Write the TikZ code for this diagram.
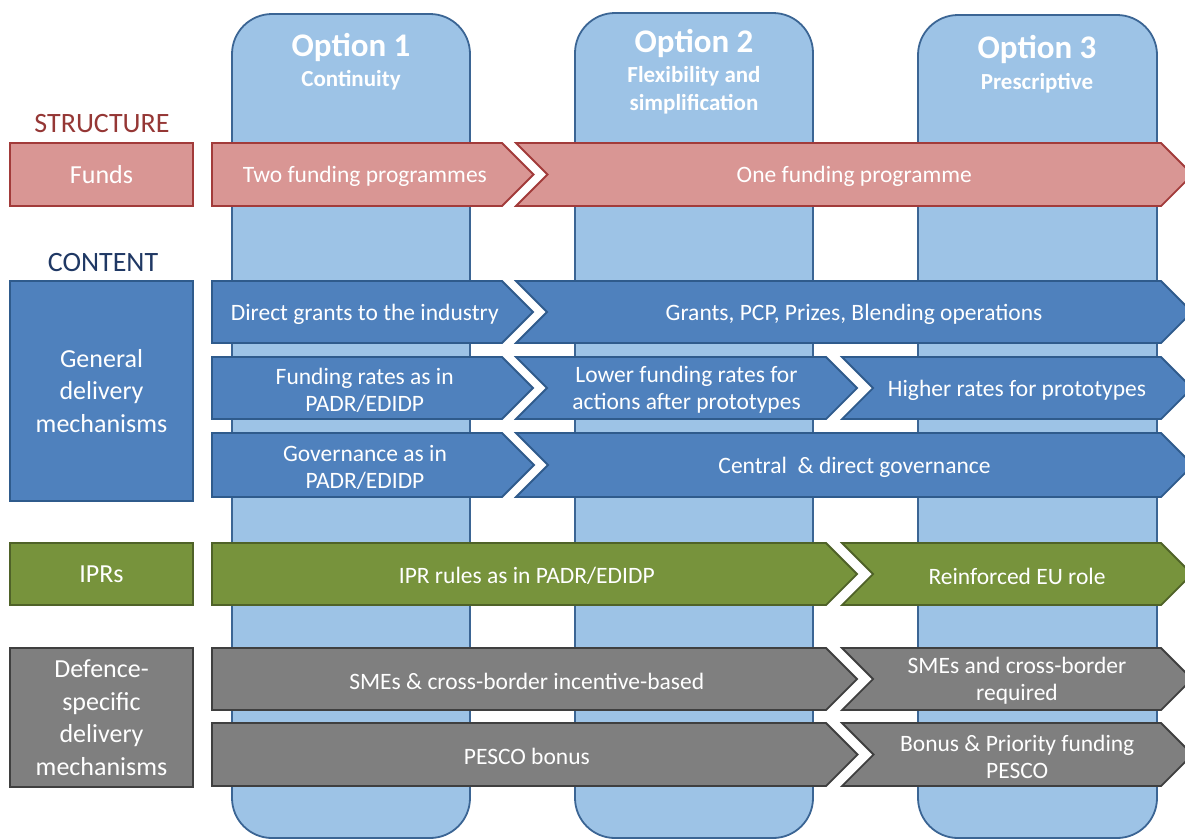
\documentclass[tikz,border=0pt]{standalone}
\usepackage{fontspec}
\setmainfont{Carlito}
\usetikzlibrary{positioning}

\definecolor{colfill}{HTML}{9DC3E6}
\definecolor{colline}{HTML}{3B6594}
\definecolor{fundfill}{HTML}{D99694}
\definecolor{fundline}{HTML}{A23B3A}
\definecolor{genfill}{HTML}{4F81BD}
\definecolor{genline}{HTML}{2F5B8C}
\definecolor{iprfill}{HTML}{77933C}
\definecolor{iprline}{HTML}{4F6228}
\definecolor{deffill}{HTML}{7F7F7F}
\definecolor{defline}{HTML}{3F3F3F}
\definecolor{structred}{HTML}{953735}
\definecolor{contentblue}{HTML}{1F3864}

% chevron: style, name, left, right, top, bottom, notch (0/1), text
\newcommand{\chev}[8]{%
  \pgfmathsetmacro{\chmid}{(#5+#6)/2}%
  \pgfmathsetmacro{\chdep}{(#6-#5)/2}%
  \pgfmathsetmacro{\chtip}{#4+\chdep}%
  \pgfmathsetmacro{\chin}{#3+#7*\chdep}%
  \pgfmathsetmacro{\chcx}{(#3+#4)/2+\chdep/4+#7*\chdep/4}%
  \draw[#1] (#3,#5) -- (#4,#5) -- (\chtip,\chmid) -- (#4,#6) -- (#3,#6) -- (\chin,\chmid) -- cycle;
  \node[chevtext] (#2) at (\chcx,\chmid) {#8};
}

\begin{document}
\begin{tikzpicture}[
  x=1pt, y=-1pt,
  column/.style={draw=colline, fill=colfill, line width=1.8pt, rounded corners=40pt},
  optitle/.style={text=white, font=\bfseries\fontsize{33}{36}\selectfont},
  opsub/.style={text=white, align=center, font=\bfseries\fontsize{23}{28}\selectfont},
  heading/.style={font=\fontsize{28}{30}\selectfont},
  sidebox/.style={draw, line width=1.8pt, text=white, align=center,
    minimum width=183pt, inner sep=0pt, font=\fontsize{26}{32.5}\selectfont},
  chevtext/.style={text=white, align=center, yshift=-2pt, font=\fontsize{23.5}{27}\selectfont},
  funds/.style={fill=fundfill, draw=fundline, line width=1.8pt},
  gen/.style={fill=genfill, draw=genline, line width=1.8pt},
  ipr/.style={fill=iprfill, draw=iprline, line width=1.8pt},
  def/.style={fill=deffill, draw=defline, line width=1.8pt}
]
\useasboundingbox (0,0) rectangle (1185,839);
\clip (0,0) rectangle (1185,839);

% option columns
\draw[column] (232,14) rectangle (470,838);
\draw[column] (575,13) rectangle (813,838);
\draw[column] (918,15) rectangle (1157,838);

\node[optitle] (opt1) at (351,47) {Option 1};
\node[opsub] (sub1) at (351,80) {Continuity};
\node[optitle] (opt2) at (694,43) {Option 2};
\node[opsub] (sub2) at (694,90) {Flexibility and\\simplification};
\node[optitle] (opt3) at (1037,49) {Option 3};
\node[opsub] (sub3) at (1037,83) {Prescriptive};

% row headings
\node[heading, text=structred] (structure) at (102,124) {STRUCTURE};
\node[heading, text=contentblue] (content) at (103,263) {CONTENT};

\node[sidebox, fill=fundfill, draw=fundline, minimum height=63pt] (funds) at (101.5,174.5) {Funds};
\node[sidebox, fill=genfill, draw=genline, minimum height=220pt] (general) at (101.5,391) {General\\delivery\\mechanisms};
\node[sidebox, fill=iprfill, draw=iprline, minimum height=62pt] (iprs) at (101.5,574) {IPRs};
\node[sidebox, fill=deffill, draw=defline, minimum height=139pt] (defence) at (101.5,717.5) {Defence-\\specific\\delivery\\mechanisms};

% funds
\chev{funds}{two}{212}{502}{143}{206}{0}{Two funding programmes}
\chev{funds}{one}{516}{1161}{143}{206}{1}{One funding programme}
% general delivery
\chev{gen}{grants1}{212}{502}{281}{343}{0}{Direct grants to the industry}
\chev{gen}{grants2}{516}{1161}{281}{343}{1}{Grants, PCP, Prizes, Blending operations}
\chev{gen}{rates1}{212}{502}{357}{419}{0}{Funding rates as in\\PADR/EDIDP}
\chev{gen}{rates2}{516}{826}{357}{419}{1}{Lower funding rates for\\actions after prototypes}
\chev{gen}{rates3}{842}{1161}{357}{419}{1}{Higher rates for prototypes}
\chev{gen}{gov1}{212}{502}{433}{497}{0}{Governance as in\\PADR/EDIDP}
\chev{gen}{gov2}{516}{1161}{433}{497}{1}{Central\ \ \& direct governance}
% IPRs
\chev{ipr}{ipr1}{212}{826}{543}{605}{0}{IPR rules as in PADR/EDIDP}
\chev{ipr}{ipr2}{842}{1161}{543}{605}{1}{Reinforced EU role}
% defence-specific
\chev{def}{sme1}{212}{826}{648}{710}{0}{SMEs \& cross-border incentive-based}
\chev{def}{sme2}{842}{1161}{648}{710}{1}{SMEs and cross-border\\required}
\chev{def}{pesco1}{212}{826}{723}{786}{0}{PESCO bonus}
\chev{def}{pesco2}{842}{1161}{723}{786}{1}{Bonus \& Priority funding\\PESCO}

\end{tikzpicture}
\end{document}
